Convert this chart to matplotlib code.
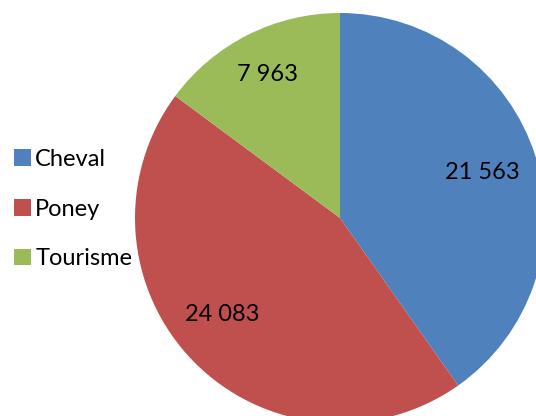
import numpy as np
import matplotlib
matplotlib.use("Agg")
from matplotlib import pyplot as plt
from matplotlib.patches import Patch

plt.rcParams['font.family'] = ['Lato', 'DejaVu Sans']

categories = ['Cheval', 'Poney', 'Tourisme']
values = [21563, 24083, 7963]
colors = ['#4F81BD', '#C0504D', '#9BBB59']

W, H = 536, 416
fig = plt.figure(figsize=(W / 100, H / 100), dpi=100)
ax = fig.add_axes([0, 0, 1, 1])

cx, cy, r = 340, H - 218, 205
wedges, _ = ax.pie(values, colors=colors, startangle=90, counterclock=False,
                   center=(cx, cy), radius=r, frame=True)
ax.set_xlim(0, W)
ax.set_ylim(0, H)
ax.set_aspect('equal')
ax.axis('off')

# label distance (fraction of radius) and angle shift for each slice
dist = [0.73, 0.74, 0.785]
shift = [0, -5, 0]
for w, v, d, s in zip(wedges, values, dist, shift):
    ang = np.deg2rad((w.theta1 + w.theta2) / 2 + s)
    ax.text(cx + d * r * np.cos(ang), cy + d * r * np.sin(ang),
            f"{v:,}".replace(",", " "), ha='center', va='center',
            fontsize=17, color='black')

handles = [Patch(facecolor=c, edgecolor='none') for c in colors]
fig.legend(handles, categories, loc='center left',
           bbox_to_anchor=(14 / W, 1 - 209 / H), frameon=False,
           fontsize=17, handlelength=0.72, handleheight=0.72,
           handletextpad=0.18, labelspacing=1.22, borderpad=0, borderaxespad=0)

fig.savefig('out.png', dpi=100)
